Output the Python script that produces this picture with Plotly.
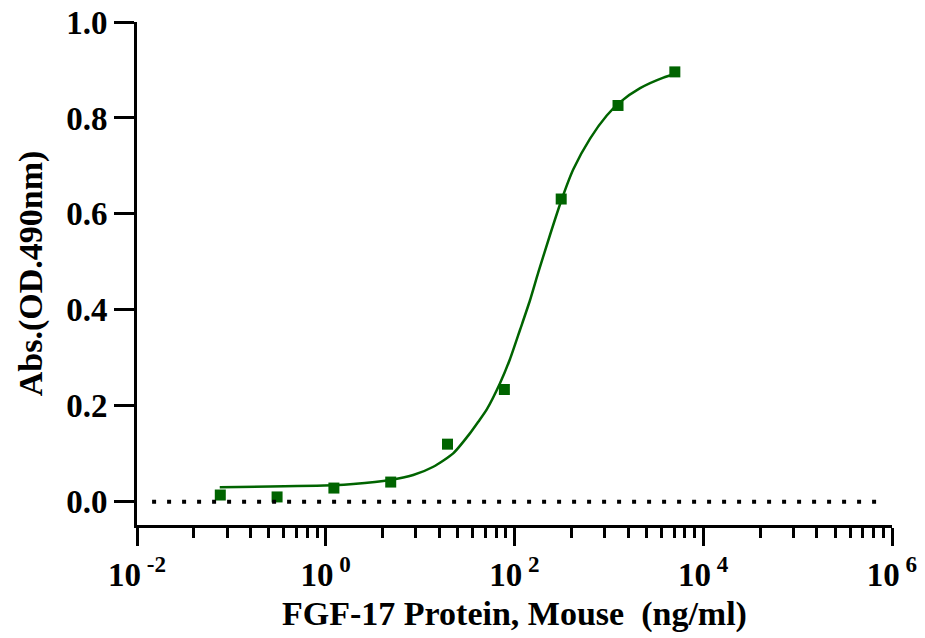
import numpy as np
import plotly.graph_objects as go

# measured points (ng/ml, OD490)
conc = [0.0763, 0.305, 1.22, 4.88, 19.5, 78.1, 312.5, 1250, 5000]
absorb = [0.014, 0.010, 0.0285, 0.041, 0.120, 0.234, 0.631, 0.826, 0.896]

# fitted curve
fit_x = [0.0753, 1.197, 1.95, 4.79, 8.45, 13.8, 22.4, 33.7, 41.3, 50.7, 70.2, 89.5,
         114.3, 146, 178.7, 237.7, 316, 420, 632, 950, 1315, 2143, 3784, 4955]
fit_y = [0.030, 0.0345, 0.0369, 0.0452, 0.0556, 0.0729, 0.1008, 0.1425, 0.1667,
         0.192, 0.247, 0.297, 0.358, 0.420, 0.478, 0.556, 0.630, 0.693, 0.757,
         0.805, 0.833, 0.862, 0.884, 0.891]

x_major = [1e-2, 1e0, 1e2, 1e4, 1e6]
x_labels = ['10<sup> -2</sup>', '10<sup> 0</sup>', '10<sup> 2</sup>', '10<sup> 4</sup>', '10<sup> 6</sup>']

green = '#006400'
font = 'Liberation Serif'

# GraphPad style minor ticks for two-decade spacing
minor_vals = [10 ** (a + 2 * np.log10(k)) for a in (-2, 0, 2, 4) for k in range(2, 10)]

fig = go.Figure()
fig.add_trace(go.Scatter(x=fit_x, y=fit_y, mode='lines',
                         line=dict(color=green, width=2.5, shape='spline', smoothing=0.6),
                         hoverinfo='skip'))
fig.add_trace(go.Scatter(x=conc, y=absorb, mode='markers',
                         marker=dict(symbol='square', size=11, color=green)))

fig.add_shape(type='line', xref='paper', yref='y', x0=0.02, x1=0.985, y0=0, y1=0,
              line=dict(color='black', width=4, dash='4px,11px'))

fig.update_layout(
    width=925, height=638,
    margin=dict(l=137, r=33, t=22, b=113),
    plot_bgcolor='white', paper_bgcolor='white',
    showlegend=False,
    font=dict(family=font, color='black'),
)
fig.update_xaxes(
    type='log', range=[-2, 6], automargin=False,
    tickvals=x_major, ticktext=x_labels,
    ticks='outside', ticklen=18, tickwidth=3, tickcolor='black',
    showline=True, linewidth=3, linecolor='black',
    showgrid=False, zeroline=False,
    tickfont=dict(family=font, size=33, weight='bold'),
    minor=dict(tickvals=minor_vals, ticks='outside', ticklen=10, tickwidth=2.5, tickcolor='black', showgrid=False),
    title=dict(text='FGF-17 Protein, Mouse  (ng/ml)', font=dict(family=font, size=34, weight='bold'), standoff=10),
)
fig.update_yaxes(
    range=[-0.0485, 1.0], automargin=False,
    tickvals=[0, 0.2, 0.4, 0.6, 0.8, 1.0], tickformat='.1f',
    ticks='outside', ticklen=20, tickwidth=3, tickcolor='black',
    showline=True, linewidth=3, linecolor='black',
    showgrid=False, zeroline=False,
    tickfont=dict(family=font, size=33, weight='bold'),
    title=dict(text='Abs.(OD.490nm)', font=dict(family=font, size=34, weight='bold'), standoff=14),
)

# drop the default page margin so the figure sits at the window corner
fig.write_html('out.html', config={'displayModeBar': False},
               post_script="document.body.style.margin='0';")
